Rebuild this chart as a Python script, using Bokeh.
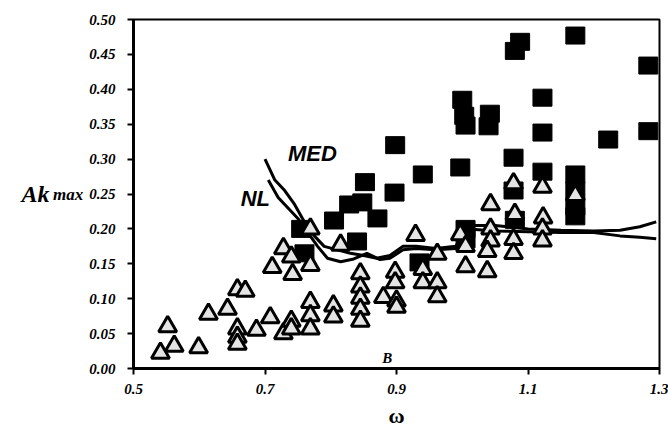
from bokeh.plotting import figure
from bokeh.models import Range1d, Label, FixedTicker, ColumnDataSource, LinearAxis
from bokeh.embed import file_html
from bokeh.resources import INLINE

# ---- data ----
sq_x = [0.755, 0.760, 0.805, 0.828, 0.848, 0.871, 0.840, 0.852, 0.897, 0.898,
        0.940, 0.935, 0.997, 1.000, 1.003, 1.005, 1.005, 1.005, 1.042, 1.040,
        1.078, 1.080, 1.088, 1.078, 1.080, 1.122, 1.122, 1.122, 1.172, 1.172,
        1.172, 1.172, 1.172, 1.222, 1.283, 1.283]
sq_y = [0.200, 0.165, 0.212, 0.235, 0.238, 0.215, 0.182, 0.267, 0.252, 0.320,
        0.278, 0.152, 0.288, 0.385, 0.362, 0.348, 0.200, 0.185, 0.365, 0.347,
        0.302, 0.455, 0.468, 0.255, 0.213, 0.388, 0.338, 0.282, 0.477, 0.278,
        0.255, 0.232, 0.218, 0.328, 0.434, 0.340]

tri_x = [0.541, 0.552, 0.562, 0.599, 0.614, 0.643, 0.658, 0.670, 0.658, 0.658,
         0.658, 0.687, 0.708, 0.728, 0.740, 0.740, 0.728, 0.740, 0.711, 0.742,
         0.769, 0.769, 0.769, 0.769, 0.769, 0.804, 0.804, 0.815, 0.845, 0.845,
         0.845, 0.845, 0.845, 0.880, 0.898, 0.898, 0.900, 0.900, 0.929, 0.940,
         0.940, 0.962, 0.962, 0.962, 0.997, 1.005, 1.005, 1.043, 1.043, 1.043,
         1.038, 1.038, 1.078, 1.080, 1.078, 1.078, 1.122, 1.123, 1.122, 1.122,
         1.172]
tri_y = [0.022, 0.060, 0.032, 0.030, 0.078, 0.085, 0.113, 0.111, 0.057, 0.045,
         0.035, 0.055, 0.073, 0.050, 0.068, 0.057, 0.172, 0.160, 0.145, 0.135,
         0.148, 0.200, 0.095, 0.076, 0.057, 0.090, 0.074, 0.177, 0.136, 0.117,
         0.101, 0.085, 0.068, 0.102, 0.138, 0.123, 0.097, 0.088, 0.191, 0.142,
         0.123, 0.164, 0.123, 0.103, 0.192, 0.175, 0.146, 0.235, 0.200, 0.183,
         0.168, 0.139, 0.265, 0.221, 0.185, 0.165, 0.260, 0.216, 0.200, 0.183,
         0.248]

med_x = [0.70, 0.715, 0.73, 0.745, 0.76, 0.775, 0.79, 0.81, 0.83, 0.85, 0.87,
         0.89, 0.91, 0.93, 0.96, 0.99, 1.01, 1.05, 1.10, 1.15, 1.20, 1.24, 1.27, 1.295]
med_y = [0.300, 0.270, 0.255, 0.235, 0.210, 0.190, 0.175, 0.170, 0.165, 0.162, 0.158,
         0.162, 0.175, 0.175, 0.172, 0.175, 0.205, 0.205, 0.200, 0.198, 0.197, 0.198, 0.203, 0.210]

nl_x = [0.705, 0.72, 0.735, 0.75, 0.765, 0.78, 0.795, 0.815, 0.835, 0.855, 0.875,
        0.89, 0.91, 0.93, 0.96, 0.99, 1.01, 1.05, 1.10, 1.15, 1.20, 1.24, 1.27, 1.295]
nl_y = [0.270, 0.245, 0.230, 0.215, 0.195, 0.175, 0.158, 0.153, 0.157, 0.165, 0.156,
        0.158, 0.170, 0.172, 0.170, 0.172, 0.200, 0.197, 0.196, 0.195, 0.195, 0.190, 0.188, 0.186]

x_ticks = [0.5, 0.7, 0.9, 1.1, 1.3]
y_ticks = [0.00, 0.05, 0.10, 0.15, 0.20, 0.25, 0.30, 0.35, 0.40, 0.45, 0.50]

SERIF = "Liberation Serif"
SANS = "Liberation Sans"

W, H = 668, 443
p = figure(width=W, height=H, output_backend="svg", toolbar_location=None,
           x_range=Range1d(0.5, 1.3), y_range=Range1d(0.0, 0.5),
           min_border_left=133, min_border_right=9, min_border_top=19, min_border_bottom=75)
p.xgrid.visible = False
p.ygrid.visible = False
p.outline_line_color = "black"
p.outline_line_width = 2
p.background_fill_color = "white"
p.border_fill_color = "white"

for ax in (p.xaxis[0], p.yaxis[0]):
    ax.axis_line_width = 3
    ax.axis_line_color = "black"
    ax.major_tick_in = 0
    ax.major_tick_out = 6
    ax.major_tick_line_width = 2
    ax.minor_tick_line_color = None
    ax.major_label_text_font = SERIF
    ax.major_label_text_font_style = "bold italic"
    ax.major_label_text_font_size = "15px"
    ax.major_label_text_color = "black"

p.xaxis[0].ticker = FixedTicker(ticks=x_ticks)
p.yaxis[0].ticker = FixedTicker(ticks=y_ticks)
p.xaxis[0].major_label_overrides = {t: f"{t:.1f}" for t in x_ticks}
p.yaxis[0].major_label_overrides = {t: f"{t:.2f}" for t in y_ticks}
p.xaxis[0].major_label_standoff = 9
p.yaxis[0].major_label_standoff = 12

# x axis label: omega
xa = p.xaxis[0]
xa.axis_label = "ω"
xa.axis_label_text_font = SERIF
xa.axis_label_text_font_style = "bold"
xa.axis_label_text_font_size = "22px"
xa.axis_label_standoff = 6
xa.axis_label_text_color = "black"

# y axis label: "max" subscript on the main axis, "Ak" on a bare outer axis
ya = p.yaxis[0]
ya.axis_label = "max"
ya.axis_label_orientation = "horizontal"
ya.axis_label_text_font = SERIF
ya.axis_label_text_font_style = "bold italic"
ya.axis_label_text_font_size = "17px"
ya.axis_label_text_baseline = "bottom"
ya.axis_label_standoff = 3
ya.axis_label_text_color = "black"

ya2 = LinearAxis(ticker=FixedTicker(ticks=[]), axis_label="Ak",
                 axis_line_color=None, major_tick_line_color=None, minor_tick_line_color=None,
                 major_tick_out=0, major_tick_in=0, minor_tick_out=0, major_label_standoff=0,
                 axis_label_standoff=1, axis_label_orientation="horizontal",
                 axis_label_text_font=SERIF, axis_label_text_font_style="bold italic",
                 axis_label_text_font_size="24px", axis_label_text_baseline="bottom",
                 axis_label_text_color="black")
p.add_layout(ya2, "left")

sq = ColumnDataSource(dict(x=sq_x, y=sq_y))
p.rect(x="x", y="y", width=19, height=17, width_units="screen", height_units="screen",
       source=sq, fill_color="black", line_color="black")

p.line(med_x, med_y, line_color="black", line_width=3)
p.line(nl_x, nl_y, line_color="black", line_width=3)

tr = ColumnDataSource(dict(x=tri_x, y=tri_y))
p.scatter(x="x", y="y", marker="triangle", size=18, source=tr,
          fill_color="#e4e4e4", line_color="black", line_width=3)

def lab(x, y, text, font, size, style="bold italic", align="left", baseline="alphabetic"):
    p.add_layout(Label(x=x, y=y, text=text, text_font=font,
                       text_font_size=size, text_font_style=style, text_align=align,
                       text_baseline=baseline, text_color="black"))

lab(0.735, 0.308, "MED", SANS, "22px")
lab(0.663, 0.244, "NL", SANS, "22px")
lab(0.886, 0.004, "B", SERIF, "15px", align="center", baseline="bottom")

open("out.html", "w").write(file_html(p, INLINE))
